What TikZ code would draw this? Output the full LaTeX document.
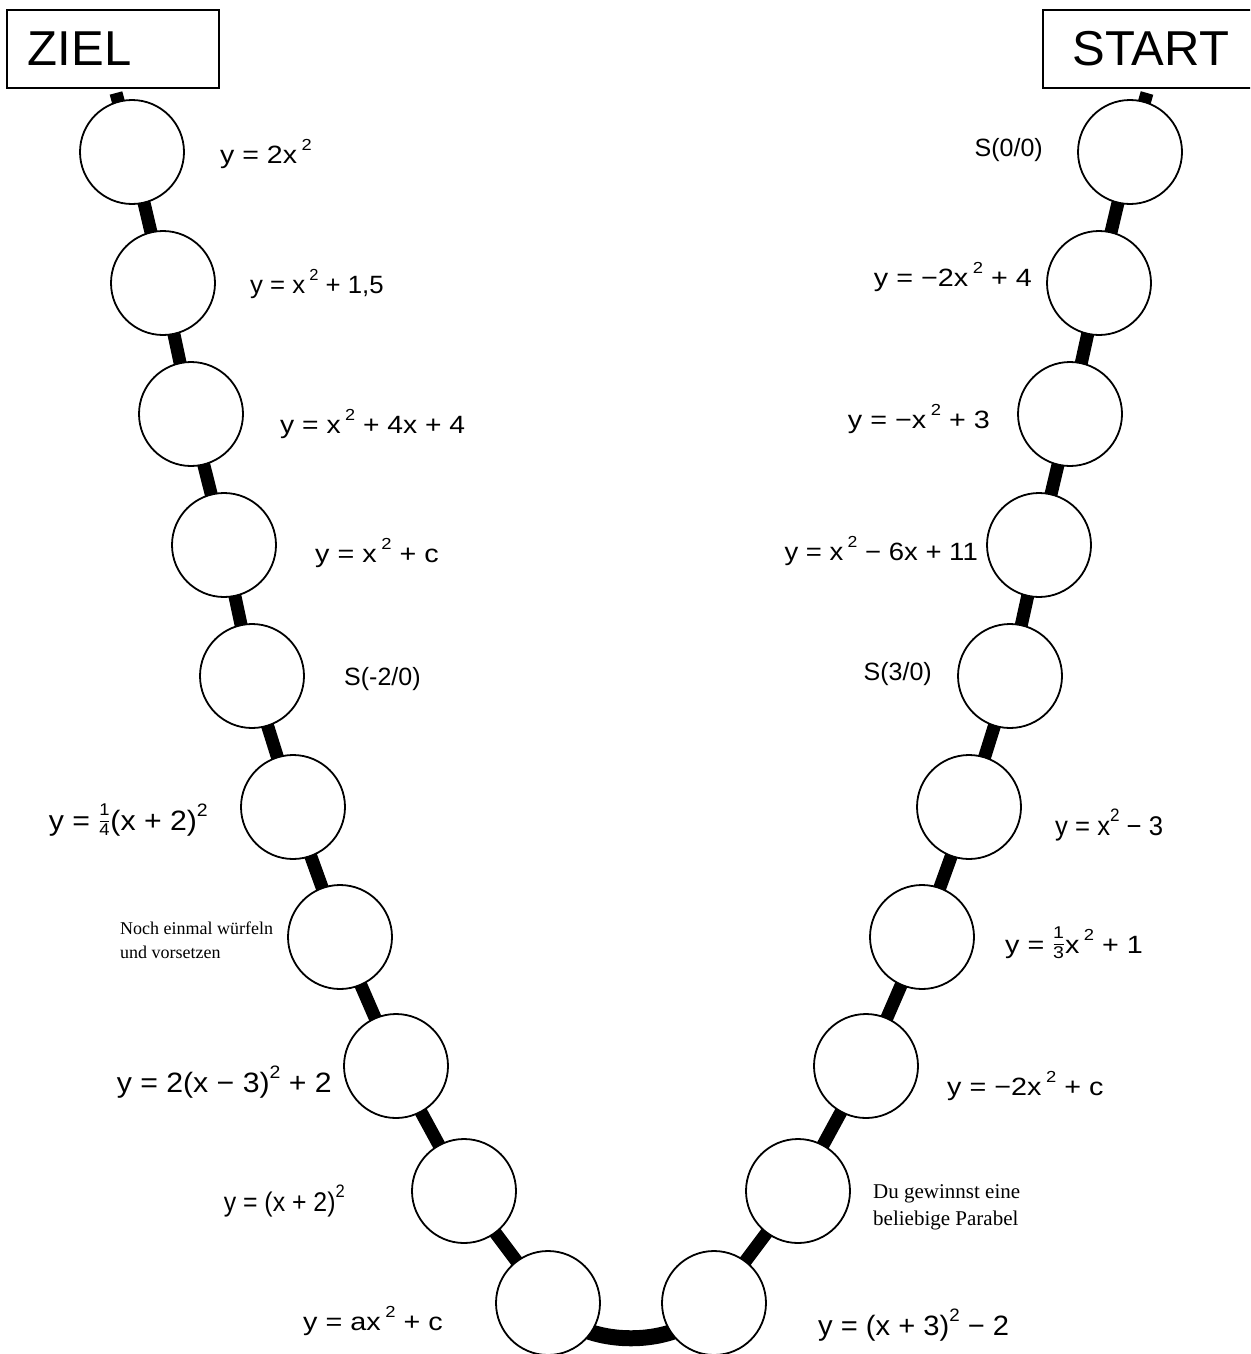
\documentclass[tikz,border=0pt]{standalone}
\usepackage{fontspec}
\usepackage{graphicx}
\setmainfont{Liberation Sans}
\newfontfamily\seriffont{Liberation Serif}
\usetikzlibrary{backgrounds}
\newcommand\wide[2]{\scalebox{#1}[1]{#2}}
\newcommand\sq{\raisebox{0.5em}{\fontsize{16}{16}\selectfont 2}}
\newcommand\sqg{\hspace{4pt}\sq}
\newcommand\sQ{\raisebox{0.5em}{\fontsize{18}{18}\selectfont 2}}
\newcommand\frc[2]{\makebox[11pt]{\fontsize{17}{17}\selectfont\makebox[0pt]{\raisebox{15pt}{#1}}\makebox[0pt]{\raisebox{-5pt}{#2}}\makebox[0pt]{\rule[8pt]{9pt}{0.7pt}}}}
\tikzset{
  ball/.style={circle, draw, line width=1.8pt, fill=white, minimum size=104pt, inner sep=0pt},
  chainline/.style={line width=13pt, line join=round},
  bowl/.style={line width=16pt},
  box/.style={draw, line width=1.8pt, anchor=north west, minimum height=78pt, align=left, font=\fontsize{49}{55}\selectfont},
  lab/.style={inner sep=0pt, font=\fontsize{25}{30}\selectfont},
  mid/.style={inner sep=0pt, font=\fontsize{27}{31}\selectfont},
  big/.style={inner sep=0pt, font=\fontsize{28}{32}\selectfont},
  note/.style={inner sep=0pt, align=left, font=\seriffont\fontsize{21}{27}\selectfont},
  lnote/.style={inner sep=0pt, align=left, font=\seriffont\fontsize{18}{24}\selectfont}
}
\begin{document}
\begin{tikzpicture}[x=1pt, y=-1pt]
\useasboundingbox (0,0) rectangle (1250,1354);
\clip (0,0) rectangle (1250,1354);
% boxes
\node[box, inner xsep=21pt, text width=170pt] (ziel) at (6,9) {ZIEL};
\node[box, inner xsep=30pt, text width=160pt] (start) at (1042,9) {START};
% circles
\node[ball] (L1) at (132,152) {};
\node[ball] (L2) at (163,283) {};
\node[ball] (L3) at (191,414) {};
\node[ball] (L4) at (224,545) {};
\node[ball] (L5) at (252,676) {};
\node[ball] (L6) at (293,807) {};
\node[ball] (L7) at (340,937) {};
\node[ball] (L8) at (396,1066) {};
\node[ball] (L9) at (464,1191) {};
\node[ball] (L10) at (548,1303) {};
\node[ball] (R1) at (1130,152) {};
\node[ball] (R2) at (1099,283) {};
\node[ball] (R3) at (1070,414) {};
\node[ball] (R4) at (1039,545) {};
\node[ball] (R5) at (1010,676) {};
\node[ball] (R6) at (969,807) {};
\node[ball] (R7) at (922,937) {};
\node[ball] (R8) at (866,1066) {};
\node[ball] (R9) at (798,1191) {};
\node[ball] (R10) at (714,1303) {};
\coordinate (zt) at (116,93);
\coordinate (st) at (1147,93);
\begin{pgfonlayer}{background}
\draw[chainline] (zt) -- (L1.center) -- (L2.center) -- (L3.center) -- (L4.center) -- (L5.center) -- (L6.center) -- (L7.center) -- (L8.center) -- (L9.center) -- (L10.center);
\draw[chainline] (st) -- (R1.center) -- (R2.center) -- (R3.center) -- (R4.center) -- (R5.center) -- (R6.center) -- (R7.center) -- (R8.center) -- (R9.center) -- (R10.center);
\draw[bowl] (L10.center) .. controls (580,1350) and (682,1350) .. (R10.center);
\end{pgfonlayer}
% left labels
\node[lab, anchor=base west] (tL1) at (220,163) {\wide{1.14}{y = 2x\sqg}};
\node[lab, anchor=base west] (tL2) at (250,293) {\wide{1.03}{y = x\sqg{} + 1,5}};
\node[lab, anchor=base west] (tL3) at (280,433) {\wide{1.13}{y = x\sqg{} + 4x + 4}};
\node[lab, anchor=base west] (tL4) at (315,562) {\wide{1.15}{y = x\sqg{} + c}};
\node[lab, anchor=base west] (tL5) at (344,685) {S(-2/0)};
\node[big, anchor=base east] (tL6) at (208,830) {\wide{1.08}{y = \frc14(x + 2)\sQ}};
\node[lnote, anchor=west] (tL7) at (120,940) {Noch einmal würfeln\\und vorsetzen};
\node[big, anchor=base east] (tL8) at (332,1092) {\wide{1.08}{y = 2(x − 3)\sQ{} + 2}};
\node[mid, anchor=base east] (tL9) at (345,1211) {\wide{0.92}{y = (x + 2)\sQ}};
\node[lab, anchor=base west] (tL10) at (303,1330) {\wide{1.15}{y = ax\sqg{} + c}};
% right labels
\node[lab, anchor=base east] (tR1) at (1043,156) {S(0/0)};
\node[lab, anchor=base east] (tR2) at (1032,286) {\wide{1.15}{y = −2x\sqg{} + 4}};
\node[lab, anchor=base east] (tR3) at (990,428) {\wide{1.15}{y = −x\sqg{} + 3}};
\node[lab, anchor=base east] (tR4) at (978,560) {\wide{1.1}{y = x\sqg{} − 6x + 11}};
\node[lab, anchor=base east] (tR5) at (932,680) {S(3/0)};
\node[mid, anchor=base west] (tR6) at (1055,835) {\wide{0.95}{y = x\sQ{} − 3}};
\node[lab, anchor=base west] (tR7) at (1005,953) {\wide{1.15}{y = \frc13x\sqg{} + 1}};
\node[lab, anchor=base west] (tR8) at (947,1095) {\wide{1.15}{y = −2x\sqg{} + c}};
\node[note, anchor=west] (tR9) at (873,1207) {Du gewinnst eine\\beliebige Parabel};
\node[big, anchor=base west] (tR10) at (818,1335) {\wide{1.04}{y = (x + 3)\sQ{} − 2}};
\end{tikzpicture}
\end{document}
